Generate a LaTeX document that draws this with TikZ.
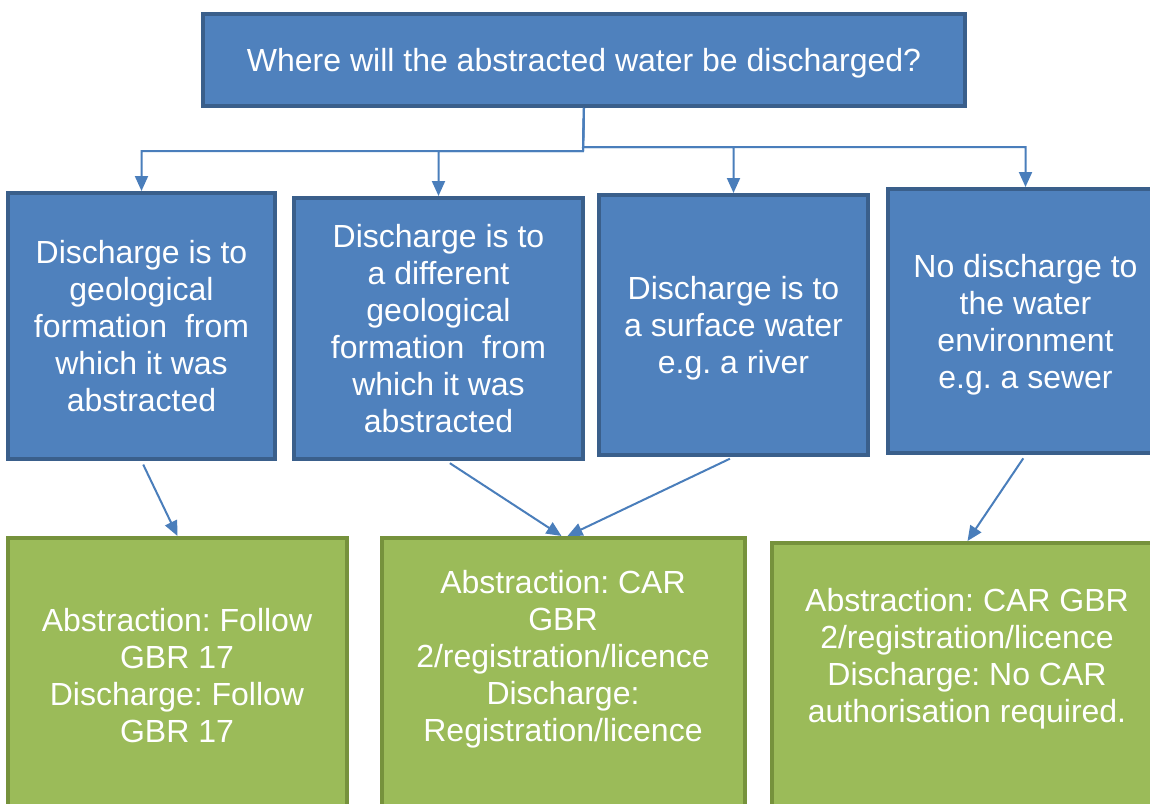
\documentclass[tikz,border=0pt]{standalone}
\usepackage{fontspec}
\setmainfont{Liberation Sans}
\frenchspacing
\usetikzlibrary{arrows.meta}
\definecolor{qblue}{HTML}{4F81BD}
\definecolor{qblueedge}{HTML}{3A5F8B}
\definecolor{agreen}{HTML}{9BBB59}
\definecolor{agreenedge}{HTML}{76923C}
\definecolor{connblue}{HTML}{4A7EBB}
\begin{document}
\begin{tikzpicture}[x=0.5pt,y=-0.5pt,
		qbox/.style={draw=qblueedge, fill=qblue, line width=2pt, text=white, align=center,
			font=\fontsize{16}{18.5}\selectfont, inner sep=0pt, text depth=0pt},
		abox/.style={draw=agreenedge, fill=agreen, line width=2pt, inner sep=0pt},
		atext/.style={text=white, align=center, font=\fontsize{16}{18.5}\selectfont, inner sep=0pt},
		conn/.style={draw=connblue, line width=1pt, -{Triangle[length=7.5pt,width=6.5pt]}}]
	\useasboundingbox (0,0) rectangle (1150,803);

	% Question
	\node[qbox, minimum width=381pt, minimum height=46pt] (where) at (584,60)
		{Where will the abstracted water be discharged?};

	% Discharge options
	\node[qbox, minimum width=133.5pt, minimum height=133pt] (same) at (141.5,326)
		{Discharge is to\\geological\\formation~ from\\which it was\\abstracted};
	\node[qbox, minimum width=144.5pt, minimum height=130.5pt] (diff) at (438.5,328.5)
		{Discharge is to\\a different\\geological\\formation~ from\\which it was\\abstracted};
	\node[qbox, minimum width=134.5pt, minimum height=130pt] (river) at (733.5,325)
		{Discharge is to\\a surface water\\e.g. a river};
	\node[qbox, minimum width=137.5pt, minimum height=132pt] (sewer) at (1025.5,321)
		{No discharge to\\the water\\environment\\e.g. a sewer};

	% Outcomes
	\node[abox, minimum width=169.5pt, minimum height=141pt] (gbr) at (177.5,679) {};
	\node[abox, minimum width=181.5pt, minimum height=141pt] (reg) at (563.5,679) {};
	\node[abox, minimum width=195.5pt, minimum height=141pt] (none) at (967.5,684) {};
	\node[atext] (gbrtext) at (177,676)
		{Abstraction: Follow\\GBR 17\\Discharge: Follow\\GBR 17};
	\node[atext] (regtext) at (563,659)
		{Abstraction: CAR\\GBR\\2/registration/licence\\Discharge:\\Registration/licence};
	\node[atext] (nonetext) at (967,659)
		{Abstraction: CAR GBR\\2/registration/licence\\Discharge: No CAR\\authorisation required.};

	% Connectors
	\coordinate (splitL) at (583,151);
	\coordinate (splitR) at (583,147);
	\draw[conn] (where.south) -- (splitL) -| (same.north);
	\draw[conn] (where.south) -- (splitL) -| (diff.north);
	\draw[conn] (where.south) -- (splitR) -| (river.north);
	\draw[conn] (where.south) -- (splitR) -| (sewer.north);

	\draw[conn, shorten <=2pt] (same.south) -- (gbr.north);
	\draw[conn, shorten <=2pt] ([xshift=4pt]diff.south) -- ([xshift=-1pt]reg.north);
	\draw[conn, shorten <=2pt] (river.south) -- ([xshift=2pt]reg.north);
	\draw[conn, shorten <=2pt] (sewer.south) -- (none.north);
\end{tikzpicture}
\end{document}
